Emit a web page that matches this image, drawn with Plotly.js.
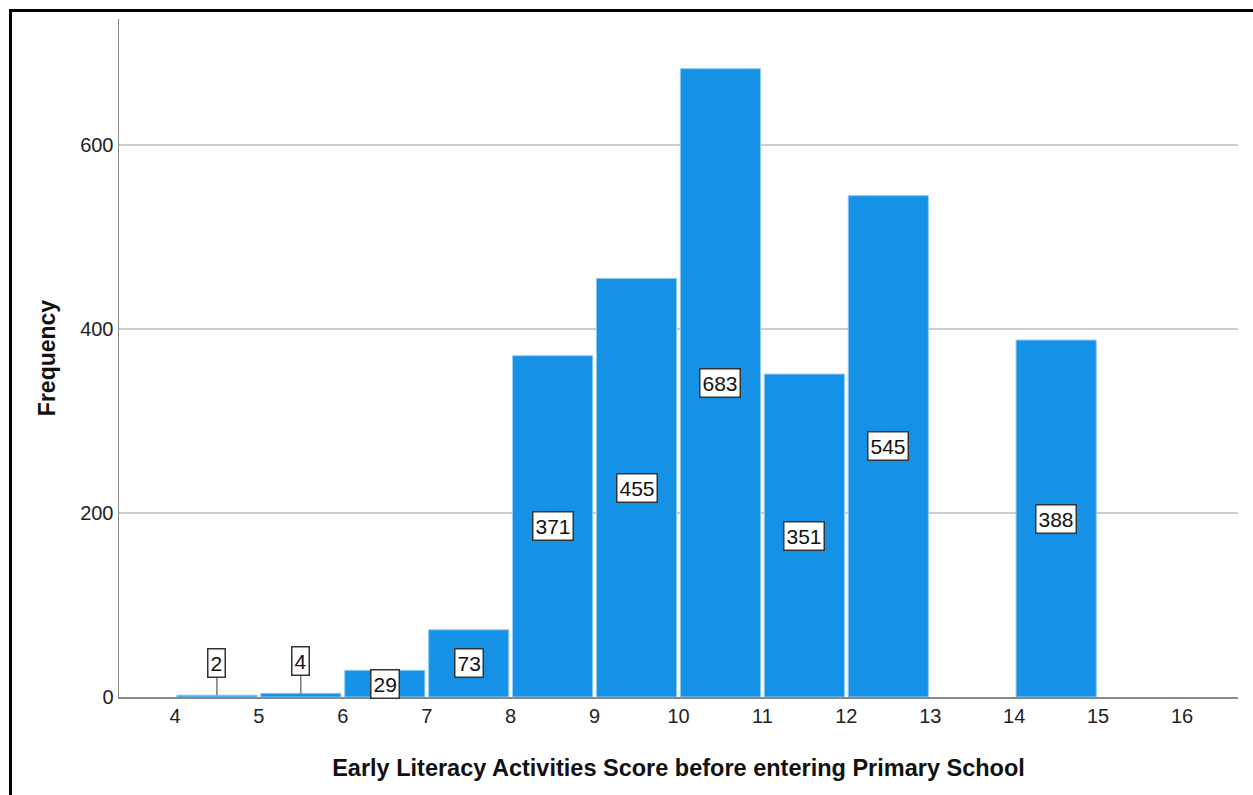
<!DOCTYPE html>
<html>
<head>
<meta charset="utf-8">
<script src="https://cdn.plot.ly/plotly-3.0.1.min.js"></script>
<style>
  html, body { margin: 0; padding: 0; background: #fff; }
  #wrap { position: relative; width: 1253px; height: 795px; overflow: hidden; }
  #chart { position: absolute; left: 0; top: 0; width: 1253px; height: 795px; }
  #frame { position: absolute; left: 9px; top: 9px; width: 1400px; height: 1000px;
           border: 3px solid #000; pointer-events: none; }
</style>
</head>
<body>
<div id="wrap">
  <div id="chart"></div>
  <div id="frame"></div>
</div>
<script>
// ---- data ----
const binStart  = [4, 5, 6, 7, 8, 9, 10, 11, 12, 13, 14, 15];
const frequency = [2, 4, 29, 73, 371, 455, 683, 351, 545, 0, 388, 0];
const xTickVals = [4, 5, 6, 7, 8, 9, 10, 11, 12, 13, 14, 15, 16];
const yTickVals = [0, 200, 400, 600];
const xTitle = 'Early Literacy Activities Score before entering Primary School';
const yTitle = 'Frequency';

// ---- build ----
const binWidth = 1;
const shown = binStart.map((s, i) => i).filter(i => frequency[i] > 0);
const centers = shown.map(i => binStart[i] + binWidth / 2);
const counts = shown.map(i => frequency[i]);
const narrow = '"Liberation Sans Narrow", "Arial Narrow", "Liberation Sans", Arial, sans-serif';
const bold = '"Liberation Sans", Arial, sans-serif';

const trace = {
  type: 'bar',
  x: centers,
  y: counts,
  width: binWidth * 0.955,
  marker: { color: '#1591e5', line: { color: '#8fcaf2', width: 1 } },
  hoverinfo: 'x+y'
};

const annotations = [];
centers.forEach((c, i) => {
  const v = counts[i];
  const small = v < 10;
  annotations.push({
    x: c, y: small ? v : v / 2,
    xref: 'x', yref: 'y',
    text: String(v),
    showarrow: small,
    arrowhead: 0, arrowwidth: 1, arrowcolor: '#333',
    ax: 0, ay: small ? -32 : 0,
    bgcolor: '#ffffff', bordercolor: '#333333', borderwidth: 1.5, borderpad: 2,
    font: { family: narrow, size: 21, color: '#111' }
  });
});

const layout = {
  width: 1253, height: 795,
  margin: { l: 119, r: 15, t: 19, b: 98, pad: 0 },
  paper_bgcolor: '#ffffff', plot_bgcolor: '#ffffff',
  showlegend: false,
  bargap: 0,
  xaxis: {
    range: [3.333, 16.667],
    tickvals: xTickVals, ticktext: xTickVals.map(String),
    ticks: '', showgrid: false, zeroline: false,
    showline: true, linecolor: '#8a8a8a', linewidth: 1.5,
    tickfont: { family: narrow, size: 20, color: '#222' },
    title: { text: xTitle, font: { family: bold, size: 23.5, color: '#111', weight: 'bold' }, standoff: 34 },
    automargin: false, fixedrange: true
  },
  yaxis: {
    range: [0, 737],
    tickvals: yTickVals, ticktext: yTickVals.map(String),
    ticks: '', showgrid: true, gridcolor: '#cdcdcd', gridwidth: 1.5,
    zeroline: false,
    showline: true, linecolor: '#8a8a8a', linewidth: 1.5,
    tickfont: { family: narrow, size: 20, color: '#222' },
    title: { text: yTitle, font: { family: bold, size: 23, color: '#111', weight: 'bold' }, standoff: 18 },
    automargin: false, fixedrange: true
  },
  annotations: annotations
};

Plotly.newPlot('chart', [trace], layout, { displayModeBar: false, staticPlot: true });
</script>
</body>
</html>
